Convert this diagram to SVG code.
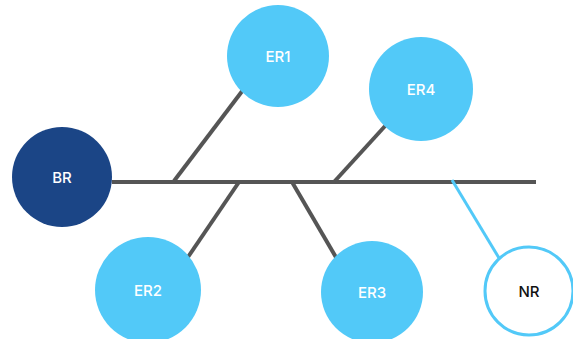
<svg xmlns="http://www.w3.org/2000/svg" width="573" height="339" viewBox="0 0 573 339">
<style>
.er{fill:#52C9F8}
.bone{stroke:#555555;stroke-width:4;fill:none}
.t{font-family:Inter,"Open Sans","Liberation Sans",sans-serif;font-size:15px;font-weight:500;text-anchor:middle;dominant-baseline:central}
.w{fill:#ffffff}
</style>
<rect width="573" height="339" fill="#ffffff"/>
<g id="connectors">
<line class="bone" x1="112" y1="182" x2="536" y2="182"/>
<line class="bone" x1="174" y1="181" x2="243" y2="90"/>
<line class="bone" x1="334" y1="182" x2="386" y2="125"/>
<line class="bone" x1="239" y1="182" x2="188" y2="257"/>
<line class="bone" x1="292" y1="182" x2="337" y2="259"/>
<line x1="452" y1="180" x2="499" y2="258" stroke="#52C9F8" stroke-width="3"/>
</g>
<g id="BR"><circle cx="62" cy="177" r="50" fill="#1B4586"/><text class="t w" x="62" y="177">BR</text></g>
<g id="ER1"><circle class="er" cx="278" cy="56" r="51"/><text class="t w" x="278" y="56">ER1</text></g>
<g id="ER4"><circle class="er" cx="421" cy="89" r="52"/><text class="t w" x="421" y="89">ER4</text></g>
<g id="ER2"><circle class="er" cx="148" cy="290" r="53"/><text class="t w" x="148" y="290">ER2</text></g>
<g id="ER3"><circle class="er" cx="372" cy="292" r="51"/><text class="t w" x="372" y="292">ER3</text></g>
<g id="NR"><circle cx="529" cy="291" r="44" fill="#ffffff" stroke="#52C9F8" stroke-width="3"/><text class="t" x="529" y="291" fill="#111111">NR</text></g>
</svg>
